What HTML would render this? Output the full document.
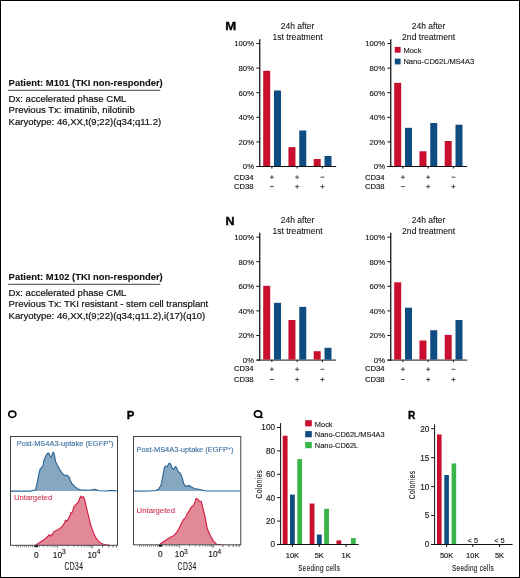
<!DOCTYPE html>
<html><head><meta charset="utf-8"><style>
html,body{margin:0;padding:0;background:#fff;}
#c{position:relative;width:520px;height:578px;box-sizing:border-box;border:1px solid #000;overflow:hidden;background:#fff;}
svg{position:absolute;left:-1px;top:-1px;will-change:transform;}
text{font-family:"Liberation Sans", sans-serif;}
</style></head><body><div id="c">
<svg width="520" height="578" viewBox="0 0 520 578">
<text x="8.6" y="85.9" font-size="9.45" text-anchor="start" fill="#111" font-weight="bold" stroke="#111" stroke-width="0.1" >Patient: M101 (TKI non-responder)</text>
<line x1="8.2" y1="90.3" x2="160.3" y2="90.3" stroke="#444" stroke-width="1"/>
<text x="8.6" y="102.3" font-size="9.55" text-anchor="start" fill="#111" font-weight="normal" stroke="#111" stroke-width="0.2" >Dx: accelerated phase CML</text>
<text x="8.6" y="113.39999999999999" font-size="9.55" text-anchor="start" fill="#111" font-weight="normal" stroke="#111" stroke-width="0.2" >Previous Tx: imatinib, nilotinib</text>
<text x="8.6" y="124.5" font-size="9.55" text-anchor="start" fill="#111" font-weight="normal" stroke="#111" stroke-width="0.2" >Karyotype: 46,XX,t(9;22)(q34;q11.2)</text>
<text x="8.6" y="279.9" font-size="9.45" text-anchor="start" fill="#111" font-weight="bold" stroke="#111" stroke-width="0.1" >Patient: M102 (TKI non-responder)</text>
<line x1="8.2" y1="284.3" x2="160.3" y2="284.3" stroke="#444" stroke-width="1"/>
<text x="8.6" y="296.3" font-size="9.55" text-anchor="start" fill="#111" font-weight="normal" stroke="#111" stroke-width="0.2" >Dx: accelerated phase CML</text>
<text x="8.6" y="307.40000000000003" font-size="9.55" text-anchor="start" fill="#111" font-weight="normal" stroke="#111" stroke-width="0.2" >Previous Tx: TKI resistant - stem cell transplant</text>
<text x="8.6" y="318.5" font-size="9.55" text-anchor="start" fill="#111" font-weight="normal" stroke="#111" stroke-width="0.2" >Karyotype: 46,XX,t(9;22)(q34;q11.2),i(17)(q10)</text>
<text x="225.3" y="30.5" font-size="11.0" text-anchor="start" fill="#000" font-weight="bold" stroke="#000" stroke-width="0.3" transform="translate(225.3,0) scale(1.2,1) translate(-225.3,0)">M</text>
<text x="225.6" y="224.7" font-size="11.4" text-anchor="start" fill="#000" font-weight="bold" stroke="#000" stroke-width="0.35" transform="translate(225.6,0) scale(1.1,1) translate(-225.6,0)">N</text>
<text x="297.6" y="29.0" font-size="8.5" text-anchor="middle" fill="#111" font-weight="normal" stroke="#111" stroke-width="0.08" >24h after</text>
<text x="297.6" y="39.5" font-size="8.6" text-anchor="middle" fill="#111" font-weight="normal" stroke="#111" stroke-width="0.08" >1st treatment</text>
<line x1="259.75" y1="39.2" x2="259.75" y2="167.0" stroke="#111" stroke-width="1.25"/>
<line x1="256.35" y1="166.5" x2="259.75" y2="166.5" stroke="#111" stroke-width="1"/>
<text x="254.05" y="169.3" font-size="7.75" text-anchor="end" fill="#111" font-weight="normal" stroke="#111" stroke-width="0.12" >0%</text>
<line x1="256.35" y1="141.9" x2="259.75" y2="141.9" stroke="#111" stroke-width="1"/>
<text x="254.05" y="144.70000000000002" font-size="7.75" text-anchor="end" fill="#111" font-weight="normal" stroke="#111" stroke-width="0.12" >20%</text>
<line x1="256.35" y1="117.3" x2="259.75" y2="117.3" stroke="#111" stroke-width="1"/>
<text x="254.05" y="120.1" font-size="7.75" text-anchor="end" fill="#111" font-weight="normal" stroke="#111" stroke-width="0.12" >40%</text>
<line x1="256.35" y1="92.69999999999999" x2="259.75" y2="92.69999999999999" stroke="#111" stroke-width="1"/>
<text x="254.05" y="95.49999999999999" font-size="7.75" text-anchor="end" fill="#111" font-weight="normal" stroke="#111" stroke-width="0.12" >60%</text>
<line x1="256.35" y1="68.1" x2="259.75" y2="68.1" stroke="#111" stroke-width="1"/>
<text x="254.05" y="70.89999999999999" font-size="7.75" text-anchor="end" fill="#111" font-weight="normal" stroke="#111" stroke-width="0.12" >80%</text>
<line x1="256.35" y1="43.5" x2="259.75" y2="43.5" stroke="#111" stroke-width="1"/>
<text x="254.05" y="46.3" font-size="7.75" text-anchor="end" fill="#111" font-weight="normal" stroke="#111" stroke-width="0.12" >100%</text>
<line x1="256.55" y1="166.5" x2="336.2" y2="166.5" stroke="#111" stroke-width="1"/>
<line x1="271.9" y1="166.5" x2="271.9" y2="168.5" stroke="#111" stroke-width="1"/>
<rect x="263.20" y="70.80" width="7.00" height="95.20" fill="#C8102E"/>
<rect x="274.00" y="90.50" width="7.00" height="75.50" fill="#0F4C81"/>
<line x1="297.15" y1="166.5" x2="297.15" y2="168.5" stroke="#111" stroke-width="1"/>
<rect x="288.45" y="147.10" width="7.00" height="18.90" fill="#C8102E"/>
<rect x="299.25" y="130.50" width="7.00" height="35.50" fill="#0F4C81"/>
<line x1="322.4" y1="166.5" x2="322.4" y2="168.5" stroke="#111" stroke-width="1"/>
<rect x="313.70" y="159.00" width="7.00" height="7.00" fill="#C8102E"/>
<rect x="324.50" y="156.00" width="7.00" height="10.00" fill="#0F4C81"/>
<text x="253.6" y="179.5" font-size="7.7" text-anchor="end" fill="#111" font-weight="normal" stroke="#111" stroke-width="0.15" >CD34</text>
<text x="253.6" y="189.0" font-size="7.7" text-anchor="end" fill="#111" font-weight="normal" stroke="#111" stroke-width="0.15" >CD38</text>
<line x1="269.9" y1="177.2" x2="273.9" y2="177.2" stroke="#333" stroke-width="0.85"/>
<line x1="271.9" y1="175.2" x2="271.9" y2="179.2" stroke="#333" stroke-width="0.85"/>
<line x1="269.9" y1="186.6" x2="273.9" y2="186.6" stroke="#333" stroke-width="0.85"/>
<line x1="295.15" y1="177.2" x2="299.15" y2="177.2" stroke="#333" stroke-width="0.85"/>
<line x1="297.15" y1="175.2" x2="297.15" y2="179.2" stroke="#333" stroke-width="0.85"/>
<line x1="295.15" y1="186.6" x2="299.15" y2="186.6" stroke="#333" stroke-width="0.85"/>
<line x1="297.15" y1="184.6" x2="297.15" y2="188.6" stroke="#333" stroke-width="0.85"/>
<line x1="320.4" y1="177.2" x2="324.4" y2="177.2" stroke="#333" stroke-width="0.85"/>
<line x1="320.4" y1="186.6" x2="324.4" y2="186.6" stroke="#333" stroke-width="0.85"/>
<line x1="322.4" y1="184.6" x2="322.4" y2="188.6" stroke="#333" stroke-width="0.85"/>
<text x="428.6" y="29.0" font-size="8.5" text-anchor="middle" fill="#111" font-weight="normal" stroke="#111" stroke-width="0.08" >24h after</text>
<text x="428.6" y="39.5" font-size="8.6" text-anchor="middle" fill="#111" font-weight="normal" stroke="#111" stroke-width="0.08" >2nd treatment</text>
<line x1="390.75" y1="39.2" x2="390.75" y2="167.0" stroke="#111" stroke-width="1.25"/>
<line x1="387.35" y1="166.5" x2="390.75" y2="166.5" stroke="#111" stroke-width="1"/>
<text x="385.05" y="169.3" font-size="7.75" text-anchor="end" fill="#111" font-weight="normal" stroke="#111" stroke-width="0.12" >0%</text>
<line x1="387.35" y1="141.9" x2="390.75" y2="141.9" stroke="#111" stroke-width="1"/>
<text x="385.05" y="144.70000000000002" font-size="7.75" text-anchor="end" fill="#111" font-weight="normal" stroke="#111" stroke-width="0.12" >20%</text>
<line x1="387.35" y1="117.3" x2="390.75" y2="117.3" stroke="#111" stroke-width="1"/>
<text x="385.05" y="120.1" font-size="7.75" text-anchor="end" fill="#111" font-weight="normal" stroke="#111" stroke-width="0.12" >40%</text>
<line x1="387.35" y1="92.69999999999999" x2="390.75" y2="92.69999999999999" stroke="#111" stroke-width="1"/>
<text x="385.05" y="95.49999999999999" font-size="7.75" text-anchor="end" fill="#111" font-weight="normal" stroke="#111" stroke-width="0.12" >60%</text>
<line x1="387.35" y1="68.1" x2="390.75" y2="68.1" stroke="#111" stroke-width="1"/>
<text x="385.05" y="70.89999999999999" font-size="7.75" text-anchor="end" fill="#111" font-weight="normal" stroke="#111" stroke-width="0.12" >80%</text>
<line x1="387.35" y1="43.5" x2="390.75" y2="43.5" stroke="#111" stroke-width="1"/>
<text x="385.05" y="46.3" font-size="7.75" text-anchor="end" fill="#111" font-weight="normal" stroke="#111" stroke-width="0.12" >100%</text>
<line x1="387.55" y1="166.5" x2="467.2" y2="166.5" stroke="#111" stroke-width="1"/>
<line x1="402.9" y1="166.5" x2="402.9" y2="168.5" stroke="#111" stroke-width="1"/>
<rect x="394.20" y="82.80" width="7.00" height="83.20" fill="#C8102E"/>
<rect x="405.00" y="127.80" width="7.00" height="38.20" fill="#0F4C81"/>
<line x1="428.15" y1="166.5" x2="428.15" y2="168.5" stroke="#111" stroke-width="1"/>
<rect x="419.45" y="151.30" width="7.00" height="14.70" fill="#C8102E"/>
<rect x="430.25" y="123.00" width="7.00" height="43.00" fill="#0F4C81"/>
<line x1="453.4" y1="166.5" x2="453.4" y2="168.5" stroke="#111" stroke-width="1"/>
<rect x="444.70" y="141.00" width="7.00" height="25.00" fill="#C8102E"/>
<rect x="455.50" y="124.70" width="7.00" height="41.30" fill="#0F4C81"/>
<text x="384.6" y="179.5" font-size="7.7" text-anchor="end" fill="#111" font-weight="normal" stroke="#111" stroke-width="0.15" >CD34</text>
<text x="384.6" y="189.0" font-size="7.7" text-anchor="end" fill="#111" font-weight="normal" stroke="#111" stroke-width="0.15" >CD38</text>
<line x1="400.9" y1="177.2" x2="404.9" y2="177.2" stroke="#333" stroke-width="0.85"/>
<line x1="402.9" y1="175.2" x2="402.9" y2="179.2" stroke="#333" stroke-width="0.85"/>
<line x1="400.9" y1="186.6" x2="404.9" y2="186.6" stroke="#333" stroke-width="0.85"/>
<line x1="426.15" y1="177.2" x2="430.15" y2="177.2" stroke="#333" stroke-width="0.85"/>
<line x1="428.15" y1="175.2" x2="428.15" y2="179.2" stroke="#333" stroke-width="0.85"/>
<line x1="426.15" y1="186.6" x2="430.15" y2="186.6" stroke="#333" stroke-width="0.85"/>
<line x1="428.15" y1="184.6" x2="428.15" y2="188.6" stroke="#333" stroke-width="0.85"/>
<line x1="451.4" y1="177.2" x2="455.4" y2="177.2" stroke="#333" stroke-width="0.85"/>
<line x1="451.4" y1="186.6" x2="455.4" y2="186.6" stroke="#333" stroke-width="0.85"/>
<line x1="453.4" y1="184.6" x2="453.4" y2="188.6" stroke="#333" stroke-width="0.85"/>
<rect x="394.80" y="46.90" width="5.80" height="5.80" fill="#C8102E"/>
<text x="403.4" y="52.5" font-size="7.55" text-anchor="start" fill="#111" font-weight="normal" stroke="#111" stroke-width="0.1" >Mock</text>
<rect x="394.80" y="58.60" width="5.80" height="5.80" fill="#0F4C81"/>
<text x="403.4" y="64.2" font-size="7.55" text-anchor="start" fill="#111" font-weight="normal" stroke="#111" stroke-width="0.1" >Nano-CD62L/MS4A3</text>
<text x="297.6" y="223.2" font-size="8.5" text-anchor="middle" fill="#111" font-weight="normal" stroke="#111" stroke-width="0.08" >24h after</text>
<text x="297.6" y="233.7" font-size="8.6" text-anchor="middle" fill="#111" font-weight="normal" stroke="#111" stroke-width="0.08" >1st treatment</text>
<line x1="259.75" y1="232.8" x2="259.75" y2="360.6" stroke="#111" stroke-width="1.25"/>
<line x1="256.35" y1="360.1" x2="259.75" y2="360.1" stroke="#111" stroke-width="1"/>
<text x="254.05" y="362.90000000000003" font-size="7.75" text-anchor="end" fill="#111" font-weight="normal" stroke="#111" stroke-width="0.12" >0%</text>
<line x1="256.35" y1="335.5" x2="259.75" y2="335.5" stroke="#111" stroke-width="1"/>
<text x="254.05" y="338.3" font-size="7.75" text-anchor="end" fill="#111" font-weight="normal" stroke="#111" stroke-width="0.12" >20%</text>
<line x1="256.35" y1="310.90000000000003" x2="259.75" y2="310.90000000000003" stroke="#111" stroke-width="1"/>
<text x="254.05" y="313.70000000000005" font-size="7.75" text-anchor="end" fill="#111" font-weight="normal" stroke="#111" stroke-width="0.12" >40%</text>
<line x1="256.35" y1="286.3" x2="259.75" y2="286.3" stroke="#111" stroke-width="1"/>
<text x="254.05" y="289.1" font-size="7.75" text-anchor="end" fill="#111" font-weight="normal" stroke="#111" stroke-width="0.12" >60%</text>
<line x1="256.35" y1="261.70000000000005" x2="259.75" y2="261.70000000000005" stroke="#111" stroke-width="1"/>
<text x="254.05" y="264.50000000000006" font-size="7.75" text-anchor="end" fill="#111" font-weight="normal" stroke="#111" stroke-width="0.12" >80%</text>
<line x1="256.35" y1="237.10000000000002" x2="259.75" y2="237.10000000000002" stroke="#111" stroke-width="1"/>
<text x="254.05" y="239.90000000000003" font-size="7.75" text-anchor="end" fill="#111" font-weight="normal" stroke="#111" stroke-width="0.12" >100%</text>
<line x1="256.55" y1="360.1" x2="336.2" y2="360.1" stroke="#111" stroke-width="1"/>
<line x1="271.9" y1="360.1" x2="271.9" y2="362.1" stroke="#111" stroke-width="1"/>
<rect x="263.20" y="285.80" width="7.00" height="73.80" fill="#C8102E"/>
<rect x="274.00" y="302.80" width="7.00" height="56.80" fill="#0F4C81"/>
<line x1="297.15" y1="360.1" x2="297.15" y2="362.1" stroke="#111" stroke-width="1"/>
<rect x="288.45" y="320.00" width="7.00" height="39.60" fill="#C8102E"/>
<rect x="299.25" y="306.90" width="7.00" height="52.70" fill="#0F4C81"/>
<line x1="322.4" y1="360.1" x2="322.4" y2="362.1" stroke="#111" stroke-width="1"/>
<rect x="313.70" y="351.20" width="7.00" height="8.40" fill="#C8102E"/>
<rect x="324.50" y="347.80" width="7.00" height="11.80" fill="#0F4C81"/>
<text x="253.6" y="371.3" font-size="7.7" text-anchor="end" fill="#111" font-weight="normal" stroke="#111" stroke-width="0.15" >CD34</text>
<text x="253.6" y="381.7" font-size="7.7" text-anchor="end" fill="#111" font-weight="normal" stroke="#111" stroke-width="0.15" >CD38</text>
<line x1="269.9" y1="369.3" x2="273.9" y2="369.3" stroke="#333" stroke-width="0.85"/>
<line x1="271.9" y1="367.3" x2="271.9" y2="371.3" stroke="#333" stroke-width="0.85"/>
<line x1="269.9" y1="379.5" x2="273.9" y2="379.5" stroke="#333" stroke-width="0.85"/>
<line x1="295.15" y1="369.3" x2="299.15" y2="369.3" stroke="#333" stroke-width="0.85"/>
<line x1="297.15" y1="367.3" x2="297.15" y2="371.3" stroke="#333" stroke-width="0.85"/>
<line x1="295.15" y1="379.5" x2="299.15" y2="379.5" stroke="#333" stroke-width="0.85"/>
<line x1="297.15" y1="377.5" x2="297.15" y2="381.5" stroke="#333" stroke-width="0.85"/>
<line x1="320.4" y1="369.3" x2="324.4" y2="369.3" stroke="#333" stroke-width="0.85"/>
<line x1="320.4" y1="379.5" x2="324.4" y2="379.5" stroke="#333" stroke-width="0.85"/>
<line x1="322.4" y1="377.5" x2="322.4" y2="381.5" stroke="#333" stroke-width="0.85"/>
<text x="428.6" y="223.2" font-size="8.5" text-anchor="middle" fill="#111" font-weight="normal" stroke="#111" stroke-width="0.08" >24h after</text>
<text x="428.6" y="233.7" font-size="8.6" text-anchor="middle" fill="#111" font-weight="normal" stroke="#111" stroke-width="0.08" >2nd treatment</text>
<line x1="390.75" y1="232.8" x2="390.75" y2="360.6" stroke="#111" stroke-width="1.25"/>
<line x1="387.35" y1="360.1" x2="390.75" y2="360.1" stroke="#111" stroke-width="1"/>
<text x="385.05" y="362.90000000000003" font-size="7.75" text-anchor="end" fill="#111" font-weight="normal" stroke="#111" stroke-width="0.12" >0%</text>
<line x1="387.35" y1="335.5" x2="390.75" y2="335.5" stroke="#111" stroke-width="1"/>
<text x="385.05" y="338.3" font-size="7.75" text-anchor="end" fill="#111" font-weight="normal" stroke="#111" stroke-width="0.12" >20%</text>
<line x1="387.35" y1="310.90000000000003" x2="390.75" y2="310.90000000000003" stroke="#111" stroke-width="1"/>
<text x="385.05" y="313.70000000000005" font-size="7.75" text-anchor="end" fill="#111" font-weight="normal" stroke="#111" stroke-width="0.12" >40%</text>
<line x1="387.35" y1="286.3" x2="390.75" y2="286.3" stroke="#111" stroke-width="1"/>
<text x="385.05" y="289.1" font-size="7.75" text-anchor="end" fill="#111" font-weight="normal" stroke="#111" stroke-width="0.12" >60%</text>
<line x1="387.35" y1="261.70000000000005" x2="390.75" y2="261.70000000000005" stroke="#111" stroke-width="1"/>
<text x="385.05" y="264.50000000000006" font-size="7.75" text-anchor="end" fill="#111" font-weight="normal" stroke="#111" stroke-width="0.12" >80%</text>
<line x1="387.35" y1="237.10000000000002" x2="390.75" y2="237.10000000000002" stroke="#111" stroke-width="1"/>
<text x="385.05" y="239.90000000000003" font-size="7.75" text-anchor="end" fill="#111" font-weight="normal" stroke="#111" stroke-width="0.12" >100%</text>
<line x1="387.55" y1="360.1" x2="467.2" y2="360.1" stroke="#111" stroke-width="1"/>
<line x1="402.9" y1="360.1" x2="402.9" y2="362.1" stroke="#111" stroke-width="1"/>
<rect x="394.20" y="282.30" width="7.00" height="77.30" fill="#C8102E"/>
<rect x="405.00" y="307.70" width="7.00" height="51.90" fill="#0F4C81"/>
<line x1="428.15" y1="360.1" x2="428.15" y2="362.1" stroke="#111" stroke-width="1"/>
<rect x="419.45" y="340.50" width="7.00" height="19.10" fill="#C8102E"/>
<rect x="430.25" y="330.20" width="7.00" height="29.40" fill="#0F4C81"/>
<line x1="453.4" y1="360.1" x2="453.4" y2="362.1" stroke="#111" stroke-width="1"/>
<rect x="444.70" y="334.90" width="7.00" height="24.70" fill="#C8102E"/>
<rect x="455.50" y="320.00" width="7.00" height="39.60" fill="#0F4C81"/>
<text x="384.6" y="371.3" font-size="7.7" text-anchor="end" fill="#111" font-weight="normal" stroke="#111" stroke-width="0.15" >CD34</text>
<text x="384.6" y="381.7" font-size="7.7" text-anchor="end" fill="#111" font-weight="normal" stroke="#111" stroke-width="0.15" >CD38</text>
<line x1="400.9" y1="369.3" x2="404.9" y2="369.3" stroke="#333" stroke-width="0.85"/>
<line x1="402.9" y1="367.3" x2="402.9" y2="371.3" stroke="#333" stroke-width="0.85"/>
<line x1="400.9" y1="379.5" x2="404.9" y2="379.5" stroke="#333" stroke-width="0.85"/>
<line x1="426.15" y1="369.3" x2="430.15" y2="369.3" stroke="#333" stroke-width="0.85"/>
<line x1="428.15" y1="367.3" x2="428.15" y2="371.3" stroke="#333" stroke-width="0.85"/>
<line x1="426.15" y1="379.5" x2="430.15" y2="379.5" stroke="#333" stroke-width="0.85"/>
<line x1="428.15" y1="377.5" x2="428.15" y2="381.5" stroke="#333" stroke-width="0.85"/>
<line x1="451.4" y1="369.3" x2="455.4" y2="369.3" stroke="#333" stroke-width="0.85"/>
<line x1="451.4" y1="379.5" x2="455.4" y2="379.5" stroke="#333" stroke-width="0.85"/>
<line x1="453.4" y1="377.5" x2="453.4" y2="381.5" stroke="#333" stroke-width="0.85"/>
<ellipse cx="12.28" cy="414.2" rx="3.55" ry="3.15" fill="none" stroke="#000" stroke-width="1.75"/>
<text x="126.8" y="418.6" font-size="11.4" text-anchor="start" fill="#000" font-weight="bold" stroke="#000" stroke-width="0.35" >P</text>
<ellipse cx="258.0" cy="414.0" rx="3.6" ry="3.2" fill="none" stroke="#000" stroke-width="1.75"/>
<line x1="259.2" y1="417.35" x2="263.0" y2="417.35" stroke="#000" stroke-width="1.4"/>
<text x="407.9" y="418.6" font-size="11.0" text-anchor="start" fill="#000" font-weight="bold" stroke="#000" stroke-width="0.35" transform="translate(407.9,0) scale(0.93,1) translate(-407.9,0)">R</text>
<path d="M10.5,491.1 L30.0,491.1 L34.3,490.3 L35.8,488.9 L37.2,482.6 L38.7,474.9 L40.1,469.2 L41.5,467.7 L43.0,465.8 L43.9,460.5 L45.4,456.7 L46.8,454.3 L48.3,453.0 L49.2,453.8 L50.4,457.1 L51.6,456.7 L52.6,452.8 L53.6,452.3 L54.5,455.2 L55.5,461.5 L57.4,465.3 L59.8,469.6 L62.7,474.0 L64.6,475.4 L67.0,475.4 L68.9,476.8 L70.4,480.7 L72.3,484.1 L75.2,486.9 L78.1,488.9 L80.0,489.8 L88.3,490.2 L92.0,489.8 L94.6,489.2 L97.0,490.0 L99.0,490.8 L106.0,491.0 L110.0,490.6 L114.0,490.6 L117.0,491.0 L117.5,491.1 Z" fill="#86A7C0" stroke="none"/>
<path d="M10.5,491.1 L30.0,491.1 L34.3,490.3 L35.8,488.9 L37.2,482.6 L38.7,474.9 L40.1,469.2 L41.5,467.7 L43.0,465.8 L43.9,460.5 L45.4,456.7 L46.8,454.3 L48.3,453.0 L49.2,453.8 L50.4,457.1 L51.6,456.7 L52.6,452.8 L53.6,452.3 L54.5,455.2 L55.5,461.5 L57.4,465.3 L59.8,469.6 L62.7,474.0 L64.6,475.4 L67.0,475.4 L68.9,476.8 L70.4,480.7 L72.3,484.1 L75.2,486.9 L78.1,488.9 L80.0,489.8 L88.3,490.2 L92.0,489.8 L94.6,489.2 L97.0,490.0 L99.0,490.8 L106.0,491.0 L110.0,490.6 L114.0,490.6 L117.0,491.0 L117.5,491.1" fill="none" stroke="#2B6698" stroke-width="1.15" stroke-linejoin="round"/>
<path d="M10.5,545.0 L35.9,545.0 L40.4,541.9 L44.7,539.3 L48.2,535.8 L49.4,534.6 L50.8,536.4 L54.2,531.5 L58.5,529.4 L62.0,526.7 L64.6,522.9 L65.5,520.3 L67.2,521.1 L69.8,516.0 L71.0,512.5 L72.4,512.1 L74.1,506.4 L75.8,504.7 L77.6,503.0 L78.6,501.5 L79.3,499.5 L80.7,496.0 L81.9,497.8 L83.3,496.6 L84.6,499.6 L85.5,503.5 L88.0,514.2 L90.6,524.6 L92.3,529.5 L94.0,534.1 L96.0,537.8 L98.3,541.0 L100.5,542.9 L102.7,544.0 L106.0,544.8 L109.5,545.0 L117.5,545.0 Z" fill="#E18996" stroke="none"/>
<path d="M35.9,545.0 L40.4,541.9 L44.7,539.3 L48.2,535.8 L49.4,534.6 L50.8,536.4 L54.2,531.5 L58.5,529.4 L62.0,526.7 L64.6,522.9 L65.5,520.3 L67.2,521.1 L69.8,516.0 L71.0,512.5 L72.4,512.1 L74.1,506.4 L75.8,504.7 L77.6,503.0 L78.6,501.5 L79.3,499.5 L80.7,496.0 L81.9,497.8 L83.3,496.6 L84.6,499.6 L85.5,503.5 L88.0,514.2 L90.6,524.6 L92.3,529.5 L94.0,534.1 L96.0,537.8 L98.3,541.0 L100.5,542.9 L102.7,544.0 L106.0,544.8 L109.5,545.0" fill="none" stroke="#D21F45" stroke-width="1.15" stroke-linejoin="round"/>
<rect x="10.5" y="436.5" width="107.0" height="108.79999999999995" fill="none" stroke="#444" stroke-width="1"/>
<text x="16.8" y="446.0" font-size="7.45" text-anchor="start" fill="#3A6EA0" font-weight="normal" stroke="#3A6EA0" stroke-width="0.12" >Post-MS4A3-uptake (EGFP<tspan dy="-2.6" font-size="5">+</tspan><tspan dy="2.6">)</tspan></text>
<text x="13.9" y="499.8" font-size="7.75" text-anchor="start" fill="#D23A5C" font-weight="normal" stroke="#D23A5C" stroke-width="0.12" >Untargeted</text>
<path d="M133.5,491.1 L150.0,491.0 L155.8,490.5 L158.7,489.0 L161.0,485.0 L162.7,476.9 L164.4,467.7 L165.6,466.2 L167.3,466.5 L168.5,464.2 L169.6,463.1 L170.8,464.8 L172.5,468.8 L173.7,469.4 L175.4,466.5 L176.5,467.7 L178.3,471.7 L180.6,473.7 L182.3,478.1 L184.0,484.4 L185.8,486.4 L187.5,485.9 L189.2,485.6 L191.5,487.1 L194.4,488.5 L197.3,489.0 L200.8,489.8 L204.2,490.5 L206.5,491.0 L240.0,491.0 L240.8,491.1 Z" fill="#86A7C0" stroke="none"/>
<path d="M133.5,491.1 L150.0,491.0 L155.8,490.5 L158.7,489.0 L161.0,485.0 L162.7,476.9 L164.4,467.7 L165.6,466.2 L167.3,466.5 L168.5,464.2 L169.6,463.1 L170.8,464.8 L172.5,468.8 L173.7,469.4 L175.4,466.5 L176.5,467.7 L178.3,471.7 L180.6,473.7 L182.3,478.1 L184.0,484.4 L185.8,486.4 L187.5,485.9 L189.2,485.6 L191.5,487.1 L194.4,488.5 L197.3,489.0 L200.8,489.8 L204.2,490.5 L206.5,491.0 L240.0,491.0 L240.8,491.1" fill="none" stroke="#2B6698" stroke-width="1.15" stroke-linejoin="round"/>
<path d="M133.5,544.6 L159.6,544.5 L164.2,541.2 L170.4,537.3 L173.5,535.8 L176.5,532.7 L179.6,527.3 L183.5,519.6 L185.8,517.3 L187.3,513.5 L189.6,510.4 L191.2,507.3 L193.5,505.5 L195.0,501.9 L196.2,498.4 L198.1,499.6 L199.6,501.5 L201.2,501.2 L202.7,507.3 L205.0,516.5 L207.3,528.8 L210.4,535.8 L213.5,541.2 L216.5,544.2 L221.2,544.5 L240.8,544.6 Z" fill="#E18996" stroke="none"/>
<path d="M159.6,544.5 L164.2,541.2 L170.4,537.3 L173.5,535.8 L176.5,532.7 L179.6,527.3 L183.5,519.6 L185.8,517.3 L187.3,513.5 L189.6,510.4 L191.2,507.3 L193.5,505.5 L195.0,501.9 L196.2,498.4 L198.1,499.6 L199.6,501.5 L201.2,501.2 L202.7,507.3 L205.0,516.5 L207.3,528.8 L210.4,535.8 L213.5,541.2 L216.5,544.2 L221.2,544.5" fill="none" stroke="#D21F45" stroke-width="1.15" stroke-linejoin="round"/>
<rect x="133.5" y="436.5" width="107.30000000000001" height="108.29999999999995" fill="none" stroke="#444" stroke-width="1"/>
<text x="136.6" y="452.3" font-size="7.45" text-anchor="start" fill="#3A6EA0" font-weight="normal" stroke="#3A6EA0" stroke-width="0.12" >Post-MS4A3-uptake (EGFP<tspan dy="-2.6" font-size="5">+</tspan><tspan dy="2.6">)</tspan></text>
<text x="136.6" y="513.4" font-size="7.75" text-anchor="start" fill="#D23A5C" font-weight="normal" stroke="#D23A5C" stroke-width="0.12" >Untargeted</text>
<line x1="16.5" y1="545.3" x2="16.5" y2="547.3" stroke="#555" stroke-width="0.6"/>
<line x1="18.5" y1="545.3" x2="18.5" y2="547.3" stroke="#555" stroke-width="0.6"/>
<line x1="20.5" y1="545.3" x2="20.5" y2="547.3" stroke="#555" stroke-width="0.6"/>
<line x1="22.5" y1="545.3" x2="22.5" y2="547.3" stroke="#555" stroke-width="0.6"/>
<line x1="24.5" y1="545.3" x2="24.5" y2="547.3" stroke="#555" stroke-width="0.6"/>
<line x1="26.5" y1="545.3" x2="26.5" y2="547.3" stroke="#555" stroke-width="0.6"/>
<line x1="28.5" y1="545.3" x2="28.5" y2="547.3" stroke="#555" stroke-width="0.6"/>
<line x1="30.5" y1="545.3" x2="30.5" y2="547.3" stroke="#555" stroke-width="0.6"/>
<line x1="32.5" y1="545.3" x2="32.5" y2="547.3" stroke="#555" stroke-width="0.6"/>
<line x1="34.400000000000006" y1="546.3" x2="38.0" y2="546.3" stroke="#111" stroke-width="1.8"/>
<line x1="39.356107538772285" y1="545.3" x2="39.356107538772285" y2="547.3" stroke="#555" stroke-width="0.6"/>
<line x1="43.6914816990803" y1="545.3" x2="43.6914816990803" y2="547.3" stroke="#555" stroke-width="0.6"/>
<line x1="47.054259150459856" y1="545.3" x2="47.054259150459856" y2="547.3" stroke="#555" stroke-width="0.6"/>
<line x1="49.801848388312436" y1="545.3" x2="49.801848388312436" y2="547.3" stroke="#555" stroke-width="0.6"/>
<line x1="52.12490198849471" y1="545.3" x2="52.12490198849471" y2="547.3" stroke="#555" stroke-width="0.6"/>
<line x1="54.13722254862044" y1="545.3" x2="54.13722254862044" y2="547.3" stroke="#555" stroke-width="0.6"/>
<line x1="55.91221507754457" y1="545.3" x2="55.91221507754457" y2="547.3" stroke="#555" stroke-width="0.6"/>
<line x1="57.5" y1="545.3" x2="57.5" y2="548.3" stroke="#555" stroke-width="0.6"/>
<line x1="67.94574084954014" y1="545.3" x2="67.94574084954014" y2="547.3" stroke="#555" stroke-width="0.6"/>
<line x1="74.0561075387723" y1="545.3" x2="74.0561075387723" y2="547.3" stroke="#555" stroke-width="0.6"/>
<line x1="78.3914816990803" y1="545.3" x2="78.3914816990803" y2="547.3" stroke="#555" stroke-width="0.6"/>
<line x1="81.75425915045986" y1="545.3" x2="81.75425915045986" y2="547.3" stroke="#555" stroke-width="0.6"/>
<line x1="84.50184838831244" y1="545.3" x2="84.50184838831244" y2="547.3" stroke="#555" stroke-width="0.6"/>
<line x1="86.82490198849472" y1="545.3" x2="86.82490198849472" y2="547.3" stroke="#555" stroke-width="0.6"/>
<line x1="88.83722254862045" y1="545.3" x2="88.83722254862045" y2="547.3" stroke="#555" stroke-width="0.6"/>
<line x1="90.61221507754458" y1="545.3" x2="90.61221507754458" y2="547.3" stroke="#555" stroke-width="0.6"/>
<line x1="92.2" y1="545.3" x2="92.2" y2="548.3" stroke="#555" stroke-width="0.6"/>
<line x1="102.64574084954015" y1="545.3" x2="102.64574084954015" y2="547.3" stroke="#555" stroke-width="0.6"/>
<line x1="108.75610753877228" y1="545.3" x2="108.75610753877228" y2="547.3" stroke="#555" stroke-width="0.6"/>
<line x1="113.0914816990803" y1="545.3" x2="113.0914816990803" y2="547.3" stroke="#555" stroke-width="0.6"/>
<line x1="116.45425915045986" y1="545.3" x2="116.45425915045986" y2="547.3" stroke="#555" stroke-width="0.6"/>
<line x1="92.2" y1="545.3" x2="92.2" y2="548.3" stroke="#555" stroke-width="0.6"/>
<line x1="102.64574084954015" y1="545.3" x2="102.64574084954015" y2="547.3" stroke="#555" stroke-width="0.6"/>
<line x1="108.75610753877228" y1="545.3" x2="108.75610753877228" y2="547.3" stroke="#555" stroke-width="0.6"/>
<line x1="113.0914816990803" y1="545.3" x2="113.0914816990803" y2="547.3" stroke="#555" stroke-width="0.6"/>
<line x1="116.45425915045986" y1="545.3" x2="116.45425915045986" y2="547.3" stroke="#555" stroke-width="0.6"/>
<text x="36.2" y="557.9" font-size="8.3" text-anchor="middle" fill="#1a1a1a" font-weight="normal" stroke="#1a1a1a" stroke-width="0.15" >0</text>
<text x="52.8" y="557.9" font-size="8.3" text-anchor="start" fill="#1a1a1a" font-weight="normal" stroke="#1a1a1a" stroke-width="0.15" >10<tspan dy="-3.6" font-size="6.6">3</tspan></text>
<text x="87.5" y="557.9" font-size="8.3" text-anchor="start" fill="#1a1a1a" font-weight="normal" stroke="#1a1a1a" stroke-width="0.15" >10<tspan dy="-3.6" font-size="6.6">4</tspan></text>
<text x="74.0" y="570.4" font-size="10.3" text-anchor="middle" fill="#222" stroke="#222" stroke-width="0.12" letter-spacing="0.6" transform="translate(74.0,0) scale(0.66,1) translate(-74.0,0)">CD34</text>
<line x1="139.5" y1="544.8" x2="139.5" y2="546.8" stroke="#555" stroke-width="0.6"/>
<line x1="141.5" y1="544.8" x2="141.5" y2="546.8" stroke="#555" stroke-width="0.6"/>
<line x1="143.5" y1="544.8" x2="143.5" y2="546.8" stroke="#555" stroke-width="0.6"/>
<line x1="145.5" y1="544.8" x2="145.5" y2="546.8" stroke="#555" stroke-width="0.6"/>
<line x1="147.5" y1="544.8" x2="147.5" y2="546.8" stroke="#555" stroke-width="0.6"/>
<line x1="149.5" y1="544.8" x2="149.5" y2="546.8" stroke="#555" stroke-width="0.6"/>
<line x1="151.5" y1="544.8" x2="151.5" y2="546.8" stroke="#555" stroke-width="0.6"/>
<line x1="153.5" y1="544.8" x2="153.5" y2="546.8" stroke="#555" stroke-width="0.6"/>
<line x1="155.5" y1="544.8" x2="155.5" y2="546.8" stroke="#555" stroke-width="0.6"/>
<line x1="157.5" y1="544.8" x2="157.5" y2="546.8" stroke="#555" stroke-width="0.6"/>
<line x1="158.6" y1="545.8" x2="162.20000000000002" y2="545.8" stroke="#111" stroke-width="1.8"/>
<line x1="161.98356203310868" y1="544.8" x2="161.98356203310868" y2="546.8" stroke="#555" stroke-width="0.6"/>
<line x1="166.16900970948674" y1="544.8" x2="166.16900970948674" y2="546.8" stroke="#555" stroke-width="0.6"/>
<line x1="169.41549514525664" y1="544.8" x2="169.41549514525664" y2="546.8" stroke="#555" stroke-width="0.6"/>
<line x1="172.06806688785207" y1="544.8" x2="172.06806688785207" y2="546.8" stroke="#555" stroke-width="0.6"/>
<line x1="174.3107843404776" y1="544.8" x2="174.3107843404776" y2="546.8" stroke="#555" stroke-width="0.6"/>
<line x1="176.2535145642301" y1="544.8" x2="176.2535145642301" y2="546.8" stroke="#555" stroke-width="0.6"/>
<line x1="177.9671240662174" y1="544.8" x2="177.9671240662174" y2="546.8" stroke="#555" stroke-width="0.6"/>
<line x1="179.5" y1="544.8" x2="179.5" y2="547.8" stroke="#555" stroke-width="0.6"/>
<line x1="189.58450485474336" y1="544.8" x2="189.58450485474336" y2="546.8" stroke="#555" stroke-width="0.6"/>
<line x1="195.48356203310868" y1="544.8" x2="195.48356203310868" y2="546.8" stroke="#555" stroke-width="0.6"/>
<line x1="199.66900970948674" y1="544.8" x2="199.66900970948674" y2="546.8" stroke="#555" stroke-width="0.6"/>
<line x1="202.91549514525664" y1="544.8" x2="202.91549514525664" y2="546.8" stroke="#555" stroke-width="0.6"/>
<line x1="205.56806688785207" y1="544.8" x2="205.56806688785207" y2="546.8" stroke="#555" stroke-width="0.6"/>
<line x1="207.8107843404776" y1="544.8" x2="207.8107843404776" y2="546.8" stroke="#555" stroke-width="0.6"/>
<line x1="209.7535145642301" y1="544.8" x2="209.7535145642301" y2="546.8" stroke="#555" stroke-width="0.6"/>
<line x1="211.4671240662174" y1="544.8" x2="211.4671240662174" y2="546.8" stroke="#555" stroke-width="0.6"/>
<line x1="213.0" y1="544.8" x2="213.0" y2="547.8" stroke="#555" stroke-width="0.6"/>
<line x1="223.08450485474336" y1="544.8" x2="223.08450485474336" y2="546.8" stroke="#555" stroke-width="0.6"/>
<line x1="228.98356203310868" y1="544.8" x2="228.98356203310868" y2="546.8" stroke="#555" stroke-width="0.6"/>
<line x1="233.16900970948674" y1="544.8" x2="233.16900970948674" y2="546.8" stroke="#555" stroke-width="0.6"/>
<line x1="236.41549514525664" y1="544.8" x2="236.41549514525664" y2="546.8" stroke="#555" stroke-width="0.6"/>
<line x1="239.06806688785207" y1="544.8" x2="239.06806688785207" y2="546.8" stroke="#555" stroke-width="0.6"/>
<line x1="213.0" y1="544.8" x2="213.0" y2="547.8" stroke="#555" stroke-width="0.6"/>
<line x1="223.08450485474336" y1="544.8" x2="223.08450485474336" y2="546.8" stroke="#555" stroke-width="0.6"/>
<line x1="228.98356203310868" y1="544.8" x2="228.98356203310868" y2="546.8" stroke="#555" stroke-width="0.6"/>
<line x1="233.16900970948674" y1="544.8" x2="233.16900970948674" y2="546.8" stroke="#555" stroke-width="0.6"/>
<line x1="236.41549514525664" y1="544.8" x2="236.41549514525664" y2="546.8" stroke="#555" stroke-width="0.6"/>
<line x1="239.06806688785207" y1="544.8" x2="239.06806688785207" y2="546.8" stroke="#555" stroke-width="0.6"/>
<text x="160.4" y="557.4" font-size="8.3" text-anchor="middle" fill="#1a1a1a" font-weight="normal" stroke="#1a1a1a" stroke-width="0.15" >0</text>
<text x="174.8" y="557.4" font-size="8.3" text-anchor="start" fill="#1a1a1a" font-weight="normal" stroke="#1a1a1a" stroke-width="0.15" >10<tspan dy="-3.6" font-size="6.6">3</tspan></text>
<text x="208.3" y="557.4" font-size="8.3" text-anchor="start" fill="#1a1a1a" font-weight="normal" stroke="#1a1a1a" stroke-width="0.15" >10<tspan dy="-3.6" font-size="6.6">4</tspan></text>
<text x="187.1" y="569.9" font-size="10.3" text-anchor="middle" fill="#222" stroke="#222" stroke-width="0.12" letter-spacing="0.6" transform="translate(187.1,0) scale(0.66,1) translate(-187.1,0)">CD34</text>
<line x1="280.6" y1="423.1" x2="280.6" y2="545.0" stroke="#111" stroke-width="1"/>
<line x1="277.1" y1="544.5" x2="358.7" y2="544.5" stroke="#111" stroke-width="1"/>
<line x1="277.1" y1="544.5" x2="280.6" y2="544.5" stroke="#111" stroke-width="1"/>
<text x="275.0" y="547.4" font-size="8.2" text-anchor="end" fill="#1a1a1a" font-weight="normal" stroke="#1a1a1a" stroke-width="0.15" >0</text>
<line x1="277.1" y1="521.1" x2="280.6" y2="521.1" stroke="#111" stroke-width="1"/>
<text x="275.0" y="524.0" font-size="8.2" text-anchor="end" fill="#1a1a1a" font-weight="normal" stroke="#1a1a1a" stroke-width="0.15" >20</text>
<line x1="277.1" y1="497.7" x2="280.6" y2="497.7" stroke="#111" stroke-width="1"/>
<text x="275.0" y="500.59999999999997" font-size="8.2" text-anchor="end" fill="#1a1a1a" font-weight="normal" stroke="#1a1a1a" stroke-width="0.15" >40</text>
<line x1="277.1" y1="474.3" x2="280.6" y2="474.3" stroke="#111" stroke-width="1"/>
<text x="275.0" y="477.2" font-size="8.2" text-anchor="end" fill="#1a1a1a" font-weight="normal" stroke="#1a1a1a" stroke-width="0.15" >60</text>
<line x1="277.1" y1="450.9" x2="280.6" y2="450.9" stroke="#111" stroke-width="1"/>
<text x="275.0" y="453.79999999999995" font-size="8.2" text-anchor="end" fill="#1a1a1a" font-weight="normal" stroke="#1a1a1a" stroke-width="0.15" >80</text>
<line x1="277.1" y1="427.5" x2="280.6" y2="427.5" stroke="#111" stroke-width="1"/>
<text x="275.0" y="430.4" font-size="8.2" text-anchor="end" fill="#1a1a1a" font-weight="normal" stroke="#1a1a1a" stroke-width="0.15" >100</text>
<line x1="292.4" y1="544.5" x2="292.4" y2="546.9" stroke="#111" stroke-width="1"/>
<text x="292.4" y="557.5" font-size="7.5" text-anchor="middle" fill="#1a1a1a" font-weight="normal" stroke="#1a1a1a" stroke-width="0.15" >10K</text>
<rect x="282.75" y="435.69" width="4.80" height="108.31" fill="#C8102E"/>
<rect x="290.00" y="494.66" width="4.80" height="49.34" fill="#0F4C81"/>
<rect x="297.25" y="459.09" width="4.80" height="84.91" fill="#3AB54A"/>
<line x1="319.3" y1="544.5" x2="319.3" y2="546.9" stroke="#111" stroke-width="1"/>
<text x="319.3" y="557.5" font-size="7.5" text-anchor="middle" fill="#1a1a1a" font-weight="normal" stroke="#1a1a1a" stroke-width="0.15" >5K</text>
<rect x="309.65" y="503.55" width="4.80" height="40.45" fill="#C8102E"/>
<rect x="316.90" y="534.55" width="4.80" height="9.45" fill="#0F4C81"/>
<rect x="324.15" y="508.81" width="4.80" height="35.18" fill="#3AB54A"/>
<line x1="346.1" y1="544.5" x2="346.1" y2="546.9" stroke="#111" stroke-width="1"/>
<text x="346.1" y="557.5" font-size="7.5" text-anchor="middle" fill="#1a1a1a" font-weight="normal" stroke="#1a1a1a" stroke-width="0.15" >1K</text>
<rect x="336.45" y="540.40" width="4.80" height="3.59" fill="#C8102E"/>
<rect x="350.95" y="538.07" width="4.80" height="5.93" fill="#3AB54A"/>
<text x="0" y="0" font-size="9.8" text-anchor="middle" fill="#222" stroke="#222" stroke-width="0.14" letter-spacing="0.5" transform="translate(261.8,484.2) rotate(-90) scale(0.68,1)">Colonies</text>
<text x="319.25" y="570.6" font-size="9.8" text-anchor="middle" fill="#222" stroke="#222" stroke-width="0.14" letter-spacing="0.5" transform="translate(319.25,0) scale(0.648,1) translate(-319.25,0)">Seeding cells</text>
<rect x="305.20" y="420.20" width="6.60" height="6.20" fill="#C8102E"/>
<text x="314.8" y="426.5" font-size="7.45" text-anchor="start" fill="#111" font-weight="normal" stroke="#111" stroke-width="0.1" >Mock</text>
<rect x="305.20" y="431.10" width="6.60" height="6.20" fill="#0F4C81"/>
<text x="314.8" y="437.4" font-size="7.45" text-anchor="start" fill="#111" font-weight="normal" stroke="#111" stroke-width="0.1" >Nano-CD62L/MS4A3</text>
<rect x="305.20" y="442.00" width="6.60" height="6.20" fill="#3AB54A"/>
<text x="314.8" y="448.3" font-size="7.45" text-anchor="start" fill="#111" font-weight="normal" stroke="#111" stroke-width="0.1" >Nano-CD62L</text>
<line x1="434.6" y1="424.3" x2="434.6" y2="545.0" stroke="#111" stroke-width="1"/>
<line x1="431.1" y1="544.5" x2="512.6" y2="544.5" stroke="#111" stroke-width="1"/>
<line x1="431.1" y1="544.5" x2="434.6" y2="544.5" stroke="#111" stroke-width="1"/>
<text x="429.4" y="547.4" font-size="8.2" text-anchor="end" fill="#1a1a1a" font-weight="normal" stroke="#1a1a1a" stroke-width="0.15" >0</text>
<line x1="431.1" y1="515.55" x2="434.6" y2="515.55" stroke="#111" stroke-width="1"/>
<text x="429.4" y="518.4499999999999" font-size="8.2" text-anchor="end" fill="#1a1a1a" font-weight="normal" stroke="#1a1a1a" stroke-width="0.15" >5</text>
<line x1="431.1" y1="486.6" x2="434.6" y2="486.6" stroke="#111" stroke-width="1"/>
<text x="429.4" y="489.5" font-size="8.2" text-anchor="end" fill="#1a1a1a" font-weight="normal" stroke="#1a1a1a" stroke-width="0.15" >10</text>
<line x1="431.1" y1="457.65" x2="434.6" y2="457.65" stroke="#111" stroke-width="1"/>
<text x="429.4" y="460.54999999999995" font-size="8.2" text-anchor="end" fill="#1a1a1a" font-weight="normal" stroke="#1a1a1a" stroke-width="0.15" >15</text>
<line x1="431.1" y1="428.7" x2="434.6" y2="428.7" stroke="#111" stroke-width="1"/>
<text x="429.4" y="431.59999999999997" font-size="8.2" text-anchor="end" fill="#1a1a1a" font-weight="normal" stroke="#1a1a1a" stroke-width="0.15" >20</text>
<line x1="446.6" y1="544.5" x2="446.6" y2="546.9" stroke="#111" stroke-width="1"/>
<text x="446.6" y="557.5" font-size="7.5" text-anchor="middle" fill="#1a1a1a" font-weight="normal" stroke="#1a1a1a" stroke-width="0.15" >50K</text>
<rect x="437.00" y="434.49" width="4.60" height="109.51" fill="#C8102E"/>
<rect x="444.30" y="475.02" width="4.60" height="68.98" fill="#0F4C81"/>
<rect x="451.60" y="463.44" width="4.60" height="80.56" fill="#3AB54A"/>
<line x1="472.8" y1="544.5" x2="472.8" y2="546.9" stroke="#111" stroke-width="1"/>
<text x="472.8" y="557.5" font-size="7.5" text-anchor="middle" fill="#1a1a1a" font-weight="normal" stroke="#1a1a1a" stroke-width="0.15" >10K</text>
<line x1="499.5" y1="544.5" x2="499.5" y2="546.9" stroke="#111" stroke-width="1"/>
<text x="499.5" y="557.5" font-size="7.5" text-anchor="middle" fill="#1a1a1a" font-weight="normal" stroke="#1a1a1a" stroke-width="0.15" >5K</text>
<text x="0" y="0" font-size="9.8" text-anchor="middle" fill="#222" stroke="#222" stroke-width="0.14" letter-spacing="0.5" transform="translate(415.0,484.9) rotate(-90) scale(0.68,1)">Colonies</text>
<text x="473.05" y="570.6" font-size="9.8" text-anchor="middle" fill="#222" stroke="#222" stroke-width="0.14" letter-spacing="0.5" transform="translate(473.05,0) scale(0.648,1) translate(-473.05,0)">Seeding cells</text>
<text x="472.8" y="543.2" font-size="7.4" text-anchor="middle" fill="#1a1a1a" font-weight="normal" stroke="#1a1a1a" stroke-width="0.15" >&lt; 5</text>
<text x="499.5" y="543.2" font-size="7.4" text-anchor="middle" fill="#1a1a1a" font-weight="normal" stroke="#1a1a1a" stroke-width="0.15" >&lt; 5</text>
</svg></div></body></html>
